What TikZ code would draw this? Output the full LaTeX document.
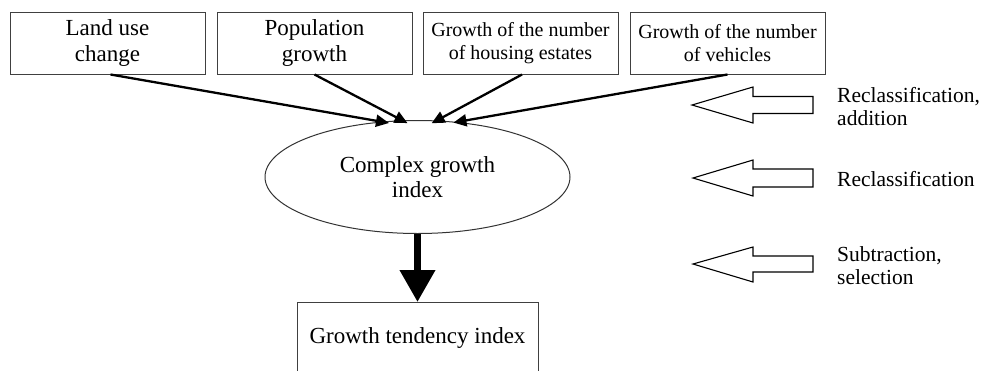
\documentclass[tikz,border=0pt]{standalone}
\usepackage{fontspec}
\setmainfont{Liberation Serif}
\usetikzlibrary{arrows.meta,shapes.geometric}
\tikzset{
  x=1pt, y=-1pt,
  topbox/.style={draw=black!75, line width=1pt, rectangle, minimum width=195pt, minimum height=62pt, inner sep=0pt, align=center},
  bigfont/.style={font=\fontsize{23}{25.5}\selectfont},
  smallfont/.style={font=\fontsize{20}{23}\selectfont},
  sidefont/.style={font=\fontsize{21.5}{23}\selectfont},
  feed/.style={line width=2.3pt, -{Triangle[length=13pt,width=12pt]}},
  hollow/.style={draw=black, line width=1.1pt, fill=white, line join=miter},
  sidelabel/.style={sidefont, anchor=west, align=left, inner sep=0pt}
}
\begin{document}
\begin{tikzpicture}
\useasboundingbox (0,0) rectangle (983,370);
\fill[white] (0,0) rectangle (983,370);

% top boxes
\node[topbox, bigfont] (b1) at (107.5,43) {Land use\\change};
\node[topbox, bigfont] (b2) at (314.5,43) {Population\\growth};
\node[topbox, smallfont] (b3) at (520.5,43) {Growth of the number\\of housing estates};
\node[topbox, smallfont] (b4) at (727.5,43) {Growth of the number\\of vehicles};

% ellipse
\node[draw=black!80, line width=1pt, ellipse, minimum width=305pt, minimum height=113pt, inner sep=0pt, align=center, bigfont] (el) at (417.5,177) {Complex growth\\index};

% bottom box
\node[draw=black!75, line width=1pt, rectangle, minimum width=241pt, inner xsep=0pt, inner ysep=0pt, text height=41pt, text depth=40pt, anchor=north, bigfont] (tend) at (417.5,302) {Growth tendency index};

% feeding arrows
\draw[feed] ([xshift=3pt]b1.south) -- ([shift={(0,-2pt)}]el.117);
\draw[feed] (b2.south) -- ([shift={(0,-3pt)}]el.100);
\draw[feed] ([xshift=1.5pt]b3.south) -- ([shift={(0,-3pt)}]el.76);
\draw[feed] (b4.south) -- ([shift={(0,-1pt)}]el.57);

% thick arrow
\draw[line width=7pt, -{Triangle[length=32pt,width=34pt]}] (el.south) -- (tend.north);

% hollow arrows
\draw[hollow] (692,105) -- (753,87) -- (753,96.5) -- (813,96.5) -- (813,113.5) -- (753,113.5) -- (753,123) -- cycle;
\draw[hollow] (693,178) -- (753,160) -- (753,169) -- (813,169) -- (813,187) -- (753,187) -- (753,196) -- cycle;
\draw[hollow] (693,264) -- (753,247) -- (753,256) -- (813,256) -- (813,272) -- (753,272) -- (753,282) -- cycle;

% side labels
\node[sidelabel] (l1) at (837,107) {Reclassification,\\addition};
\node[sidelabel] (l2) at (837,179) {Reclassification};
\node[sidelabel] (l3) at (837,266) {Subtraction,\\selection};
\end{tikzpicture}
\end{document}
